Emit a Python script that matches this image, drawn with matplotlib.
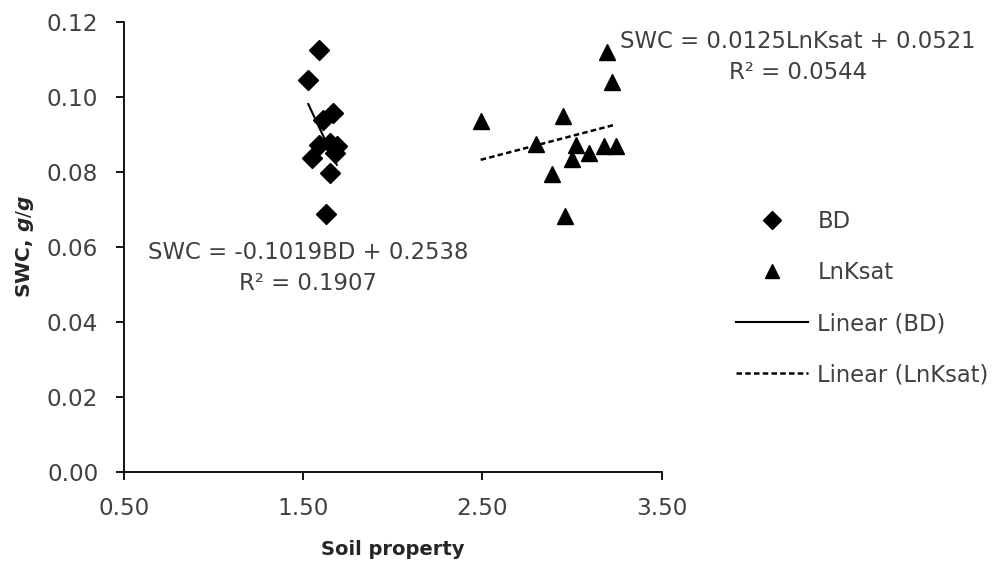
import numpy as np
import matplotlib
matplotlib.use('Agg')
import matplotlib.pyplot as plt

# data
bd_x = [1.590, 1.528, 1.610, 1.666, 1.590, 1.650, 1.687, 1.677, 1.551, 1.650, 1.627]
bd_swc = [0.1124, 0.1044, 0.0939, 0.0958, 0.0872, 0.0877, 0.0868, 0.0851, 0.0838, 0.0797, 0.0687]

ksat_x = [3.194, 3.222, 2.490, 2.948, 2.799, 3.022, 3.179, 3.244, 3.097, 2.998, 2.887, 2.961]
ksat_swc = [0.1121, 0.1041, 0.0937, 0.0948, 0.0874, 0.0872, 0.0869, 0.0869, 0.0850, 0.0834, 0.0795, 0.0683]

# trendline coefficients (slope, intercept) and R2 shown on the chart
bd_fit = [-0.1019, 0.2538]
ksat_fit = [0.0125, 0.0521]
bd_r2 = 0.1907
ksat_r2 = 0.0544

x_ticks = [0.5, 1.5, 2.5, 3.5]
y_ticks = [0.00, 0.02, 0.04, 0.06, 0.08, 0.10, 0.12]

txt_col = '#404040'
plt.rcParams['font.family'] = ['DejaVu Sans']
plt.rcParams['mathtext.fontset'] = 'custom'
plt.rcParams['mathtext.it'] = 'DejaVu Sans:italic:bold'

W, H = 995, 563
fig = plt.figure(figsize=(W / 100, H / 100), dpi=100)
ax = fig.add_axes([124 / W, 1 - 471.7 / H, (661.7 - 124) / W, (471.7 - 22) / H])

# scatter points
ax.plot(bd_x, bd_swc, 'D', color='black', ms=10.5, label='BD', clip_on=False)
ax.plot(ksat_x, ksat_swc, '^', color='black', ms=11, label='LnKsat', clip_on=False)

# linear trendlines over each data range
xb = np.array([min(bd_x), max(bd_x)])
ax.plot(xb, bd_fit[0] * xb + bd_fit[1], '-', color='black', lw=1.5, label='Linear (BD)')
xk = np.array([min(ksat_x), max(ksat_x)])
ax.plot(xk, ksat_fit[0] * xk + ksat_fit[1], color='black', lw=1.8,
        linestyle=(0, (2.2, 1.3)), label='Linear (LnKsat)')

ax.set_xlim(0.5, 3.5)
ax.set_ylim(0, 0.12)
ax.set_xticks(x_ticks)
ax.set_xticklabels(['%.2f' % v for v in x_ticks])
ax.set_yticks(y_ticks)
ax.set_yticklabels(['%.2f' % v for v in y_ticks])

for s in ['top', 'right']:
    ax.spines[s].set_visible(False)
for s in ['left', 'bottom']:
    ax.spines[s].set_linewidth(1.3)
    ax.spines[s].set_color('black')
ax.tick_params(axis='both', direction='out', length=5.5, width=1.3, colors='black',
               labelcolor=txt_col, labelsize=16.7)
ax.tick_params(axis='x', pad=13)
ax.tick_params(axis='y', pad=13)

ax.set_xlabel('Soil property', fontsize=14, fontweight='bold', color='#262626', labelpad=14)
ax.set_ylabel(r'SWC, $\mathit{g/g}$', fontsize=14.5, fontweight='bold', color='#262626', labelpad=8)

# trendline equations
fig.text(308 / W, 1 - 268 / H,
         'SWC = %.4fBD + %.4f\nR² = %.4f' % (bd_fit[0], bd_fit[1], bd_r2),
         ha='center', va='center', multialignment='center', fontsize=16.4,
         color=txt_col, linespacing=1.4)
fig.text(798 / W, 1 - 57 / H,
         'SWC = %.4fLnKsat + %.4f\nR² = %.4f' % (ksat_fit[0], ksat_fit[1], ksat_r2),
         ha='center', va='center', multialignment='center', fontsize=16.4,
         color=txt_col, linespacing=1.45)

leg = ax.legend(loc='upper left', bbox_to_anchor=(736 / W, 1 - 210 / H),
                bbox_transform=fig.transFigure, frameon=False, fontsize=16.3,
                handlelength=3.2, handletextpad=0.4, labelspacing=1.24,
                borderpad=0, borderaxespad=0, numpoints=1, markerscale=0.9)
for t in leg.get_texts():
    t.set_color(txt_col)

fig.savefig('out.png', dpi=100)
